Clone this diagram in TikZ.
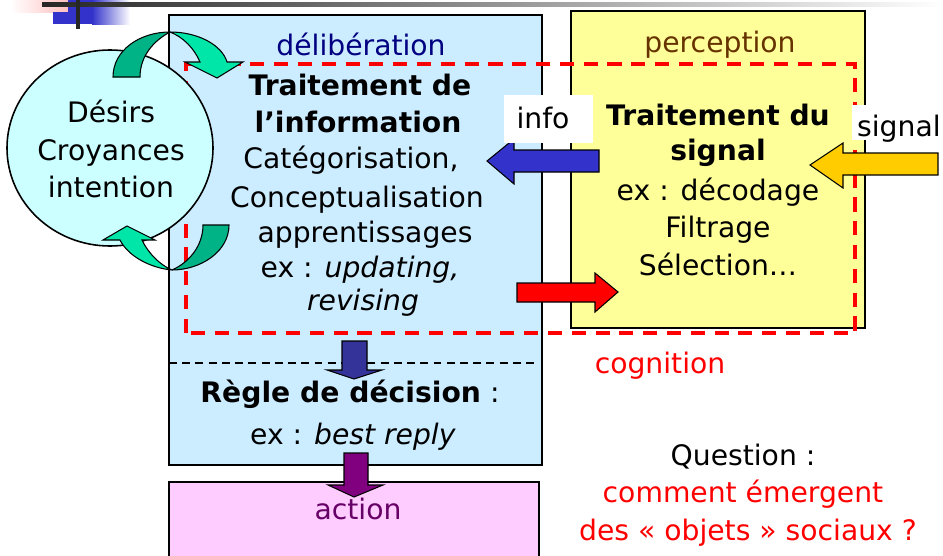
\documentclass[tikz,border=0pt]{standalone}
\usepackage{fontspec}
\setmainfont{DejaVu Sans}
\usetikzlibrary{shapes.geometric}
\definecolor{delibfill}{HTML}{CCECFF}
\definecolor{percfill}{HTML}{FFFF99}
\definecolor{actfill}{HTML}{FFCCFF}
\definecolor{circfill}{HTML}{CCFFFF}
\definecolor{navytxt}{HTML}{000080}
\definecolor{browntxt}{HTML}{663300}
\definecolor{purpletxt}{HTML}{660066}
\definecolor{greendark}{HTML}{00B386}
\definecolor{greenlight}{HTML}{00E6A8}
\definecolor{infoblue}{HTML}{3333CC}
\definecolor{signalyellow}{HTML}{FFCC00}
\definecolor{downblue}{HTML}{333399}
\definecolor{downpurple}{HTML}{800080}
\definecolor{decoblue}{HTML}{3333CC}
\begin{document}
\begin{tikzpicture}[x=0.567pt,y=-0.567pt,
  txt/.style={anchor=base, inner sep=0pt, font=\fontsize{16}{19}\selectfont},
  boxline/.style={draw=black, line width=1.1pt},
  blockarrow/.style={draw=black, line width=0.6pt, line join=miter},
  cogdash/.style={draw=red, line width=1.8pt, dash pattern=on 8pt off 5.5pt},
  sepdash/.style={draw=black, line width=0.9pt, dash pattern=on 4.5pt off 3pt}]
\useasboundingbox (0,0) rectangle (943,555);
\clip (0,0) rectangle (943,555);

% decoration at the top
\shade[left color=white, right color=red!25] (10,0) rectangle (68,12);
\fill[decoblue] (53,12) rectangle (92,24);
\fill[decoblue] (68,0) rectangle (92,12);
\shade[left color=decoblue, right color=white] (92,0) rectangle (130,24);
\shade[left color=black!85, right color=white] (42,2) rectangle (943,6);
\fill[black!85] (76,0) rectangle (80,29);

% boxes
\filldraw[boxline, fill=delibfill] (169,15) rectangle (542,465);
\filldraw[boxline, fill=percfill] (571,11) rectangle (865,328);
\filldraw[boxline, fill=actfill] (169,482) rectangle (539,570);
\draw[sepdash] (169,363) -- (537,363);
\draw[cogdash] (186,333) -- (186,64) -- (855,64) -- (855,333) -- cycle;

% circle
\node[draw=black, line width=0.9pt, fill=circfill, ellipse, minimum width=206*0.567pt, minimum height=196*0.567pt, inner sep=0pt] (bdi) at (110,148) {};

% green curved arrows
\fill[greenlight] (113,77) .. controls (113,50) and (140,32) .. (170,32) .. controls (198,32) and (222,45) .. (227,62) -- (243,62) -- (217,78) -- (185,62) -- (200,62) .. controls (194,48) and (183,37) .. (170,32) .. controls (155,40) and (140,55) .. (140,77) -- cycle;
\begin{scope}
\clip (0,0) rectangle (170,120);
\fill[greendark] (113,77) .. controls (113,50) and (140,32) .. (170,32) .. controls (198,32) and (222,45) .. (227,62) -- (243,62) -- (217,78) -- (185,62) -- (200,62) .. controls (194,48) and (183,37) .. (170,32) .. controls (155,40) and (140,55) .. (140,77) -- cycle;
\end{scope}
\draw[blockarrow] (113,77) .. controls (113,50) and (140,32) .. (170,32) .. controls (198,32) and (222,45) .. (227,62) -- (243,62) -- (217,78) -- (185,62) -- (200,62) .. controls (194,48) and (183,37) .. (170,32) .. controls (155,40) and (140,55) .. (140,77) -- cycle;

\fill[greenlight] (229,225) .. controls (229,252) and (200,270) .. (172,270) .. controls (150,268) and (128,256) .. (120,240) -- (103,240) -- (127,226) -- (155,240) -- (142,240) .. controls (148,253) and (160,265) .. (172,270) .. controls (190,262) and (203,245) .. (203,225) -- cycle;
\begin{scope}
\clip (172,200) rectangle (260,300);
\fill[greendark] (229,225) .. controls (229,252) and (200,270) .. (172,270) .. controls (150,268) and (128,256) .. (120,240) -- (103,240) -- (127,226) -- (155,240) -- (142,240) .. controls (148,253) and (160,265) .. (172,270) .. controls (190,262) and (203,245) .. (203,225) -- cycle;
\end{scope}
\draw[blockarrow] (229,225) .. controls (229,252) and (200,270) .. (172,270) .. controls (150,268) and (128,256) .. (120,240) -- (103,240) -- (127,226) -- (155,240) -- (142,240) .. controls (148,253) and (160,265) .. (172,270) .. controls (190,262) and (203,245) .. (203,225) -- cycle;

% block arrows
\filldraw[blockarrow, fill=infoblue] (599,150) -- (514,150) -- (514,139) -- (487,161) -- (514,184) -- (514,172) -- (599,172) -- cycle;
\filldraw[blockarrow, fill=signalyellow] (938,153) -- (843,153) -- (843,143) -- (810,165) -- (843,188) -- (843,175) -- (938,175) -- cycle;
\filldraw[blockarrow, fill=red] (517,283) -- (595,283) -- (595,273) -- (618,292) -- (595,312) -- (595,302) -- (517,302) -- cycle;
\filldraw[blockarrow, fill=downblue] (342,341) -- (367,341) -- (367,370) -- (382,370) -- (354,379) -- (327,370) -- (342,370) -- cycle;
\filldraw[blockarrow, fill=downpurple] (344,453) -- (368,453) -- (368,485) -- (383,485) -- (354,497) -- (328,485) -- (344,485) -- cycle;

% labels on white
\fill[white] (504,95) rectangle (593,143);
\node[txt] (info) at (543,128) {info};
\fill[white] (852,105) rectangle (943,140);
\node[txt, anchor=base east] (signal) at (941,136) {signal};

% circle text
\node[txt] (desirs) at (111,122) {Désirs};
\node[txt] (croy) at (111,160) {Croyances};
\node[txt] (intent) at (111,197) {intention};

% deliberation text
\node[txt, text=navytxt] (delib) at (361,55) {délibération};
\node[txt] (t1) at (360,95) {\bfseries Traitement de};
\node[txt] (t2) at (358,132) {\bfseries l’information};
\node[txt] (t3) at (351,168) {Catégorisation,};
\node[txt] (t4) at (357,207) {Conceptualisation};
\node[txt] (t5) at (365,242) {apprentissages};
\node[txt] (t6) at (360,277) {ex : \textit{updating,}};
\node[txt] (t7) at (363,310) {\textit{revising}};
\node[txt] (r1) at (350,402) {\textbf{Règle de décision} :};
\node[txt] (r2) at (353,444) {ex : \textit{best reply}};
\node[txt, text=purpletxt] (action) at (358,519) {action};

% perception text
\node[txt, text=browntxt] (perc) at (720,52) {perception};
\node[txt] (p1) at (718,125) {\bfseries Traitement du};
\node[txt] (p2) at (718,160) {\bfseries signal};
\node[txt] (p3) at (718,200) {ex : décodage};
\node[txt] (p4) at (718,237) {Filtrage};
\node[txt] (p5) at (718,275) {Sélection…};

% other texts
\node[txt, text=red] (cog) at (660,373) {cognition};
\node[txt] (q1) at (743,465) {Question :};
\node[txt, text=red] (q2) at (743,502) {comment émergent};
\node[txt, text=red] (q3) at (748,540) {des « objets » sociaux ?};
\end{tikzpicture}
\end{document}
